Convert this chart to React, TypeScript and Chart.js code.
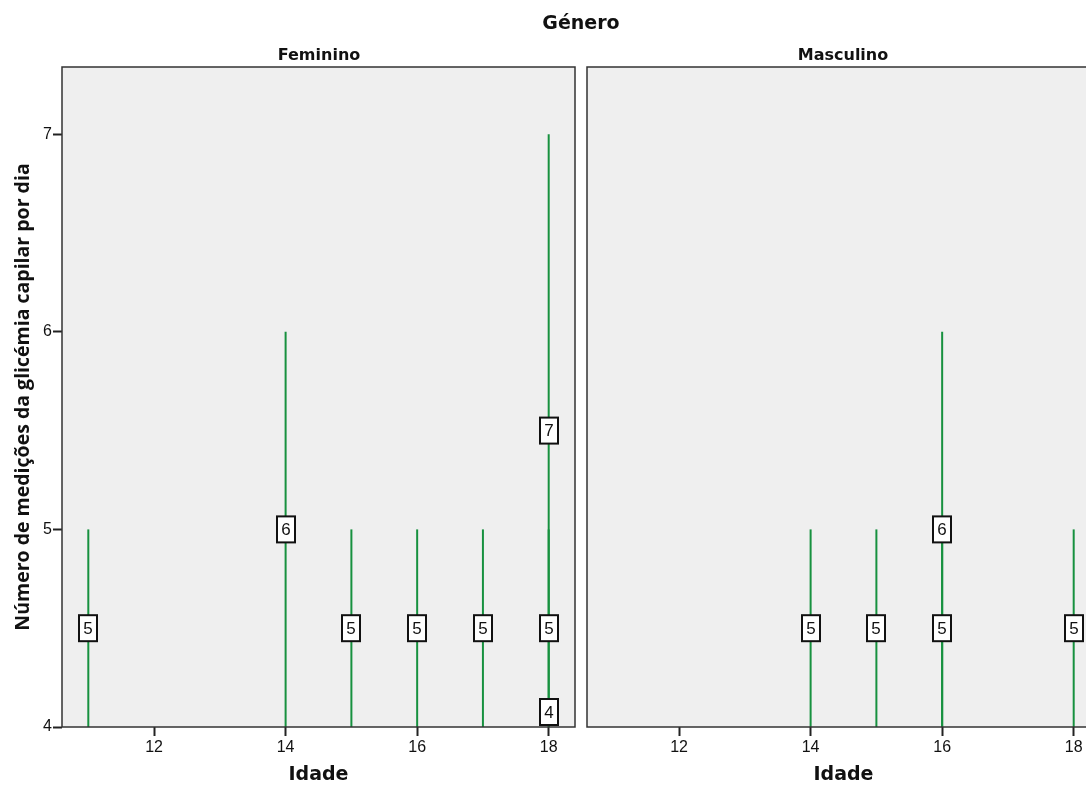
import React, { useEffect, useRef } from "react";
import { Chart, registerables } from "chart.js";

Chart.register(...registerables);

const BASELINE = 4;
const femAges = [11, 14, 15, 16, 17, 18, 18, 18];
const femCounts = [5, 6, 5, 5, 5, 7, 5, 4];
const mascAges = [14, 15, 16, 16, 18];
const mascCounts = [5, 5, 6, 5, 5];
const xTickValues = [12, 14, 16, 18];
const yTickValues = [4, 5, 6, 7];
const X_MIN = 10.6;
const X_MAX = 18.4;
const Y_MIN = 4;
const Y_MAX = 7.34;

const LINE_COLOR = "#17913f";
const PANEL_BG = "#efefef";

const panelPlugin = {
  id: "panelDeco",
  beforeDraw(chart: any) {
    const { ctx, chartArea: a } = chart;
    ctx.save();
    ctx.fillStyle = PANEL_BG;
    ctx.fillRect(a.left, a.top, a.right - a.left, a.bottom - a.top);
    ctx.restore();
  },
  afterDatasetsDraw(chart: any) {
    const { ctx, chartArea: a } = chart;
    const xs = chart.scales.x;
    const ys = chart.scales.y;
    ctx.save();
    chart.data.datasets.forEach((ds: any) => {
      const top = ds.data[1];
      const px = Math.round(xs.getPixelForValue(top.x));
      let cy = ys.getPixelForValue((BASELINE + top.y) / 2);
      const w = 18;
      const h = 26;
      if (cy + h / 2 > a.bottom - 2) cy = a.bottom - 2 - h / 2;
      ctx.fillStyle = "#ffffff";
      ctx.fillRect(px - w / 2, cy - h / 2, w, h);
      ctx.strokeStyle = "#111";
      ctx.lineWidth = 2;
      ctx.strokeRect(px - w / 2, cy - h / 2, w, h);
      ctx.fillStyle = "#111";
      ctx.font = "17px 'Liberation Sans', Arial, sans-serif";
      ctx.textAlign = "center";
      ctx.textBaseline = "middle";
      ctx.fillText(String(top.y), px, cy + 1);
    });
    ctx.restore();
  },
  afterDraw(chart: any) {
    const { ctx, chartArea: a } = chart;
    ctx.save();
    ctx.strokeStyle = "#333";
    ctx.lineWidth = 1.5;
    ctx.strokeRect(a.left, a.top, a.right - a.left, a.bottom - a.top);
    ctx.restore();
  },
};

type PanelProps = {
  ages: number[];
  counts: number[];
  showY: boolean;
  left: number;
  width: number;
  padLeft: number;
  padRight: number;
};

function Panel({ ages, counts, showY, left, width, padLeft, padRight }: PanelProps) {
  const ref = useRef<HTMLCanvasElement | null>(null);
  useEffect(() => {
    if (!ref.current) return;
    const datasets = ages.map((age, i) => ({
      type: "line" as const,
      data: [
        { x: age, y: BASELINE },
        { x: age, y: counts[i] },
      ],
      borderColor: LINE_COLOR,
      borderWidth: 2,
      pointRadius: 0,
      fill: false,
    }));
    const chart = new Chart(ref.current, {
      type: "line",
      data: { datasets },
      plugins: [panelPlugin],
      options: {
        animation: false,
        responsive: false,
        maintainAspectRatio: false,
        layout: { padding: { top: 67, left: padLeft, right: padRight, bottom: 0 } },
        plugins: { legend: { display: false }, tooltip: { enabled: false }, title: { display: false } },
        scales: {
          x: {
            type: "linear",
            min: X_MIN,
            max: X_MAX,
            afterBuildTicks: (s: any) => {
              s.ticks = xTickValues.map((v) => ({ value: v }));
            },
            afterFit: (s: any) => {
              s.height = 58;
            },
            ticks: {
              color: "#111",
              padding: 2,
              maxRotation: 0,
              font: { family: "'Liberation Sans', Arial, sans-serif", size: 16 },
            },
            grid: {
              display: true,
              drawOnChartArea: false,
              drawTicks: true,
              tickLength: 9,
              tickWidth: 2,
              tickColor: "#222",
            },
            border: { display: false },
            title: {
              display: true,
              text: "Idade",
              color: "#111",
              padding: 0,
              font: { family: "'DejaVu Sans', sans-serif", size: 19, weight: "bold", lineHeight: 1 },
            },
          },
          y: {
            type: "linear",
            display: showY,
            min: Y_MIN,
            max: Y_MAX,
            afterBuildTicks: (s: any) => {
              s.ticks = yTickValues.map((v) => ({ value: v }));
            },
            afterFit: (s: any) => {
              s.width = showY ? 62 : 0;
            },
            ticks: {
              color: "#111",
              padding: 1,
              font: { family: "'Liberation Sans', Arial, sans-serif", size: 16 },
            },
            grid: {
              display: true,
              drawOnChartArea: false,
              drawTicks: true,
              tickLength: 9,
              tickWidth: 2,
              tickColor: "#222",
            },
            border: { display: false },
            title: {
              display: true,
              text: "Número de medições da glicémia capilar por dia",
              color: "#111",
              padding: 14,
              font: { family: "'Open Sans', sans-serif", size: 19.5, weight: "bold", lineHeight: 1 },
            },
          },
        },
      },
    });
    return () => chart.destroy();
  }, []);
  return (
    <canvas
      ref={ref}
      width={width}
      height={785}
      style={{ position: "absolute", left, top: 0, width, height: 785 }}
    />
  );
}

const titleStyle: React.CSSProperties = {
  position: "absolute",
  fontFamily: "'DejaVu Sans', sans-serif",
  fontWeight: "bold",
  color: "#111",
  textAlign: "center",
  whiteSpace: "nowrap",
  lineHeight: "1",
};

export default function App() {
  return (
    <div
      style={{
        position: "fixed",
        left: 0,
        top: 0,
        width: 1086,
        height: 785,
        overflow: "hidden",
        background: "#ffffff",
      }}
    >
      <Panel ages={femAges} counts={femCounts} showY={true} left={0} width={581} padLeft={0} padRight={6} />
      <Panel ages={mascAges} counts={mascCounts} showY={false} left={581} width={519} padLeft={6} padRight={0} />
      <div style={{ ...titleStyle, left: 381, width: 400, top: 13, fontSize: 19 }}>Género</div>
      <div style={{ ...titleStyle, left: 219, width: 200, top: 47, fontSize: 16 }}>Feminino</div>
      <div style={{ ...titleStyle, left: 743, width: 200, top: 47, fontSize: 16 }}>Masculino</div>
    </div>
  );
}
